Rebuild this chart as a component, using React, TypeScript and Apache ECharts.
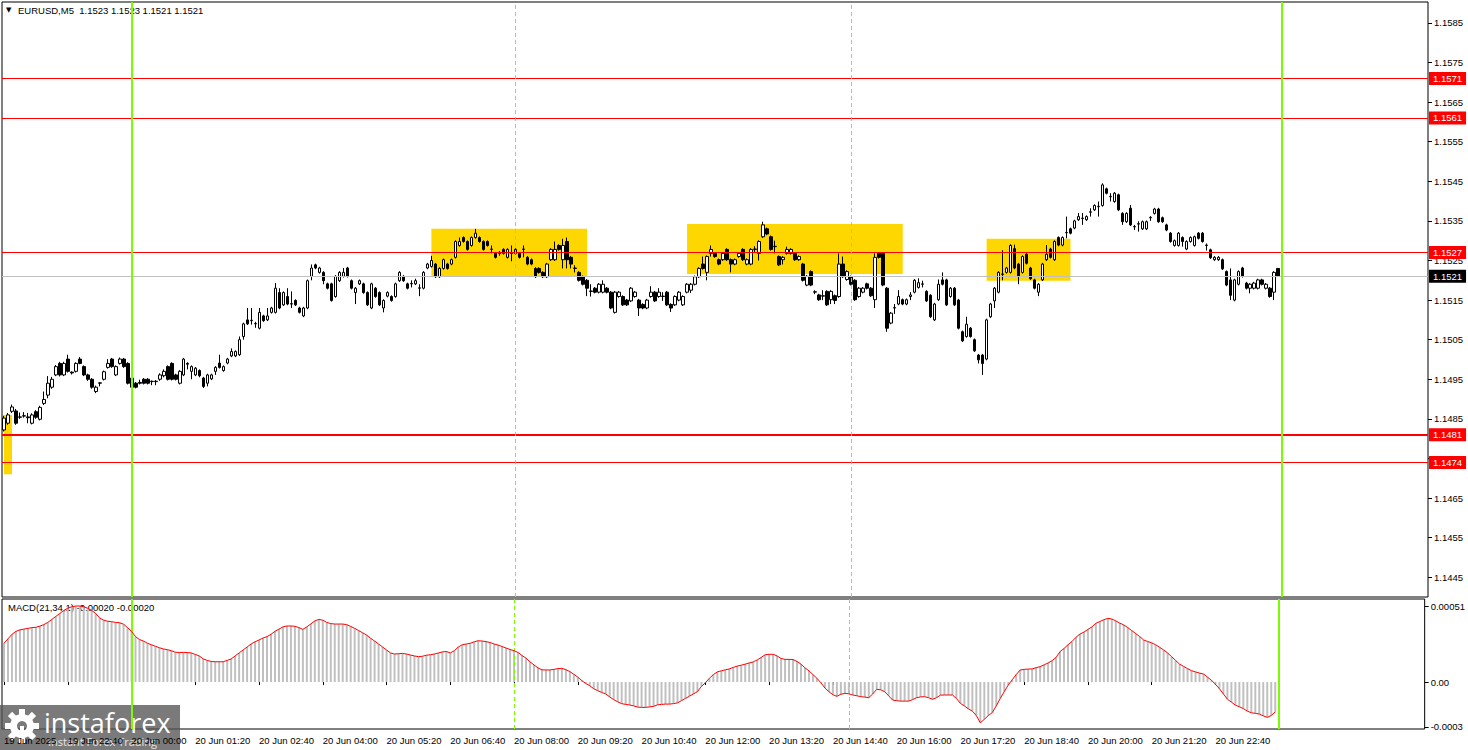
import React, { useEffect, useRef } from "react";
import * as echarts from "echarts";

// Prices are stored in pips above 1.1400 (value = 1.1400 + p / 10000)
const PRICE_BASE = 1.14;
// [open, close, low, high] per M5 bar, from 19 Jun 21:20 to 20 Jun 23:55
const candlesPips: number[][] = [
  [82.2, 85.2, 81.8, 85.8], [83.9, 86.0, 83.5, 86.5], [86.9, 88.0, 86.5, 88.6], [87.0, 83.9, 83.5, 87.5],
  [85.4, 85.5, 85.0, 86.6], [85.7, 85.8, 85.3, 86.7], [85.5, 85.3, 83.9, 86.5], [83.9, 86.0, 83.6, 86.4],
  [86.8, 85.4, 85.0, 87.2], [84.9, 87.9, 84.6, 88.3], [88.9, 89.9, 88.5, 91.9], [91.0, 94.0, 90.2, 95.8],
  [93.0, 95.0, 92.6, 95.6], [96.1, 98.2, 95.8, 98.6], [99.0, 96.1, 95.7, 99.4], [96.1, 99.0, 95.8, 99.4],
  [100.1, 97.0, 96.7, 101.2], [96.8, 96.6, 96.2, 97.0], [97.0, 99.0, 96.7, 99.3], [100.1, 99.0, 98.8, 100.6],
  [98.2, 96.1, 95.8, 98.5], [96.1, 95.0, 94.6, 96.4], [95.0, 93.0, 92.6, 95.3], [91.9, 93.0, 91.5, 93.4],
  [94.0, 94.1, 93.2, 94.3], [95.0, 96.9, 94.7, 97.2], [98.0, 99.0, 97.7, 100.1], [100.1, 98.2, 97.9, 100.4],
  [96.1, 98.2, 95.8, 98.5], [99.0, 100.1, 98.7, 100.5], [100.1, 98.2, 97.9, 100.4], [99.0, 94.0, 93.7, 99.3],
  [95.3, 93.0, 91.9, 95.6], [94.0, 93.0, 92.7, 94.3], [94.2, 94.0, 93.7, 94.9], [95.0, 94.0, 93.7, 95.3],
  [95.0, 94.0, 93.7, 95.3], [94.4, 94.5, 93.5, 94.7], [94.4, 94.5, 93.5, 94.8], [95.0, 96.1, 94.6, 96.5],
  [95.9, 97.0, 95.5, 97.5], [98.2, 95.0, 94.7, 98.5], [99.0, 95.0, 94.7, 99.3], [96.1, 95.0, 94.7, 96.4],
  [94.0, 97.0, 93.7, 97.3], [96.1, 100.1, 95.8, 100.4], [99.0, 98.8, 97.5, 99.3], [97.0, 98.2, 95.0, 98.5],
  [96.1, 97.8, 95.8, 98.1], [97.2, 95.9, 95.5, 97.5], [95.3, 93.2, 92.8, 95.6], [94.0, 96.1, 93.2, 96.4],
  [95.1, 96.1, 94.8, 96.4], [97.0, 98.0, 96.1, 98.3], [99.1, 98.0, 97.7, 101.2], [97.2, 98.2, 96.9, 98.5],
  [99.1, 100.1, 98.8, 100.4], [100.9, 102.0, 100.6, 102.8], [100.9, 102.0, 100.6, 102.3], [101.2, 105.0, 100.9, 105.8],
  [105.8, 109.0, 105.0, 109.3], [110.0, 109.0, 108.7, 113.0], [109.8, 109.9, 108.8, 113.0], [109.0, 109.1, 108.0, 109.5],
  [107.9, 111.9, 107.6, 113.0], [111.0, 109.8, 109.5, 111.3], [110.0, 111.0, 109.7, 113.0], [111.9, 113.0, 111.6, 113.3],
  [111.9, 118.0, 111.6, 119.3], [116.9, 113.0, 112.7, 118.0], [113.8, 116.9, 113.5, 117.2], [115.9, 114.0, 113.7, 118.0],
  [114.0, 114.1, 113.0, 117.2], [114.9, 113.8, 113.5, 115.2], [113.0, 111.9, 111.6, 113.3], [111.0, 113.0, 110.7, 113.3],
  [113.0, 119.9, 112.7, 120.2], [121.0, 123.1, 120.0, 124.0], [123.9, 123.1, 122.8, 124.2], [122.0, 123.1, 121.7, 123.4],
  [122.0, 119.9, 119.0, 122.3], [119.1, 118.0, 117.7, 119.4], [119.1, 114.9, 114.6, 119.4], [115.9, 121.0, 115.6, 121.3],
  [119.9, 122.0, 119.6, 122.3], [121.0, 122.0, 120.7, 123.1], [123.1, 121.0, 120.7, 123.4], [119.9, 118.0, 117.7, 120.2],
  [116.9, 118.0, 114.0, 118.3], [119.1, 119.9, 118.8, 120.2], [119.1, 116.9, 116.6, 119.4], [116.9, 113.8, 113.5, 117.2],
  [113.0, 119.1, 112.7, 119.4], [118.0, 115.9, 115.6, 118.3], [116.9, 113.8, 113.5, 117.2], [113.0, 114.9, 111.9, 115.2],
  [116.0, 116.9, 115.7, 117.2], [115.9, 114.9, 114.6, 116.2], [115.9, 119.1, 115.6, 119.4], [119.9, 122.0, 119.6, 122.3],
  [121.0, 119.9, 119.6, 121.3], [119.1, 118.0, 117.7, 119.4], [119.1, 119.2, 118.2, 120.0], [119.1, 119.9, 118.8, 120.4],
  [118.0, 118.1, 116.0, 119.0], [118.0, 122.0, 117.7, 122.3], [123.1, 124.1, 122.8, 124.4], [123.5, 125.0, 123.2, 126.2],
  [124.1, 120.9, 120.6, 124.4], [120.9, 123.0, 120.6, 123.3], [123.0, 125.2, 122.7, 125.5], [124.1, 123.0, 122.7, 124.4],
  [124.1, 125.2, 123.8, 125.5], [125.8, 129.8, 125.5, 130.1], [128.8, 129.8, 128.5, 130.8], [130.8, 129.8, 129.5, 131.1],
  [129.8, 127.8, 127.5, 130.1], [128.8, 130.8, 128.5, 131.1], [130.8, 131.9, 130.5, 133.0], [130.8, 129.8, 129.5, 131.1],
  [129.8, 127.8, 127.5, 130.1], [129.8, 128.8, 128.5, 130.1], [127.8, 127.9, 126.8, 128.8], [126.8, 125.8, 125.5, 127.1],
  [126.8, 126.9, 126.2, 127.4], [127.8, 126.8, 126.5, 128.1], [125.8, 127.8, 125.5, 128.1], [126.8, 126.9, 124.8, 128.8],
  [127.8, 126.8, 126.5, 128.1], [126.8, 125.8, 125.5, 127.1], [127.8, 127.9, 125.8, 128.8], [125.8, 124.1, 123.8, 126.1],
  [125.2, 124.1, 123.8, 125.5], [123.0, 120.9, 120.6, 123.3], [123.0, 122.0, 121.7, 123.3], [122.0, 120.9, 120.6, 122.3],
  [120.9, 124.1, 120.6, 124.4], [125.2, 127.8, 124.9, 128.1], [125.2, 127.8, 124.9, 129.8], [128.8, 127.8, 127.5, 129.1],
  [125.2, 128.8, 123.0, 130.5], [129.8, 125.2, 123.0, 130.8], [125.8, 124.1, 123.0, 126.1], [123.0, 123.1, 122.0, 123.8],
  [122.0, 120.0, 119.7, 122.3], [120.9, 119.0, 118.7, 121.2], [120.0, 118.0, 116.0, 120.3], [117.2, 117.3, 115.9, 119.0],
  [118.0, 117.0, 116.7, 118.3], [117.0, 119.0, 116.7, 119.3], [117.0, 119.0, 116.7, 120.0], [118.0, 117.0, 116.7, 118.3],
  [117.0, 113.0, 112.7, 117.3], [111.9, 117.0, 111.6, 117.3], [115.9, 117.0, 115.6, 117.3], [115.9, 113.8, 113.5, 116.2],
  [115.0, 113.8, 113.5, 115.3], [114.8, 118.0, 114.5, 118.3], [115.9, 117.0, 115.6, 117.3], [115.0, 113.0, 111.0, 115.3],
  [113.9, 113.0, 112.7, 114.2], [113.0, 115.0, 112.7, 115.3], [115.9, 117.0, 115.6, 118.5], [117.0, 114.8, 114.5, 117.3],
  [115.9, 117.0, 115.6, 118.0], [115.9, 116.0, 114.8, 117.0], [117.0, 113.8, 113.5, 117.3], [113.9, 113.0, 112.0, 114.2],
  [113.8, 115.9, 113.5, 116.2], [115.0, 117.0, 114.7, 117.3], [113.8, 115.9, 113.5, 116.2], [117.0, 119.0, 116.7, 119.3],
  [117.5, 119.0, 116.8, 119.3], [119.0, 120.9, 118.7, 121.2], [120.9, 123.0, 120.6, 123.3], [124.1, 123.0, 122.7, 126.0],
  [122.0, 126.0, 120.0, 126.3], [126.8, 127.8, 126.0, 128.8], [126.8, 126.0, 125.7, 127.1], [125.2, 124.1, 123.8, 125.5],
  [125.2, 126.8, 124.9, 127.1], [127.8, 125.2, 124.9, 128.1], [125.2, 124.1, 122.0, 125.5], [124.1, 125.2, 123.8, 125.5],
  [126.0, 126.8, 125.7, 127.1], [127.8, 125.2, 124.9, 128.1], [124.1, 125.2, 123.8, 125.5], [124.1, 127.8, 123.8, 128.1],
  [127.8, 127.9, 127.0, 128.6], [126.8, 129.8, 125.0, 130.1], [131.0, 134.0, 130.7, 134.8], [133.0, 131.7, 131.4, 133.3],
  [131.0, 127.8, 127.5, 131.3], [128.5, 128.6, 126.8, 130.0], [126.0, 123.9, 123.6, 126.3], [125.2, 125.8, 124.0, 126.1],
  [126.8, 127.8, 126.5, 128.5], [126.8, 127.8, 126.5, 128.1], [126.8, 125.2, 124.9, 127.1], [125.2, 126.0, 124.9, 126.3],
  [124.1, 120.0, 119.7, 124.4], [118.8, 121.0, 118.5, 121.3], [122.2, 118.8, 118.5, 122.5], [117.0, 117.1, 116.5, 117.5],
  [116.3, 115.1, 114.8, 116.6], [116.0, 116.1, 115.0, 117.5], [117.2, 113.8, 113.5, 117.5], [115.1, 117.2, 114.0, 117.5],
  [116.1, 114.9, 114.0, 116.4], [115.9, 124.1, 115.6, 126.8], [124.1, 120.9, 120.6, 126.0], [120.2, 122.2, 119.9, 122.5],
  [120.9, 119.0, 118.7, 121.2], [120.0, 115.1, 114.8, 120.3], [115.9, 118.0, 115.6, 118.3], [117.0, 118.0, 116.7, 118.3],
  [119.1, 118.0, 117.7, 119.4], [118.0, 116.1, 115.8, 118.3], [115.1, 125.8, 113.0, 126.8], [126.8, 125.8, 125.5, 126.8],
  [126.8, 118.8, 118.5, 126.8], [118.0, 107.9, 107.0, 118.3], [109.2, 111.7, 108.9, 112.0], [113.0, 113.1, 111.5, 114.0],
  [114.0, 115.9, 113.7, 117.5], [115.1, 114.0, 113.7, 115.4], [114.0, 115.1, 113.7, 115.4], [115.9, 116.3, 115.0, 117.0],
  [117.0, 120.0, 116.7, 120.3], [118.2, 119.4, 117.9, 120.5], [119.0, 119.1, 118.2, 119.9], [117.2, 114.8, 114.5, 117.5],
  [116.2, 110.8, 110.5, 116.5], [110.0, 114.0, 109.7, 114.3], [115.1, 119.0, 114.8, 120.2], [120.1, 119.0, 118.7, 122.0],
  [120.1, 113.8, 113.5, 120.4], [115.9, 118.0, 115.6, 118.3], [118.0, 113.8, 113.5, 118.3], [115.0, 107.9, 107.6, 115.3],
  [107.0, 104.7, 104.4, 107.3], [105.8, 108.9, 105.5, 110.8], [107.9, 105.8, 105.5, 108.2], [105.0, 102.2, 101.9, 105.3],
  [101.1, 99.9, 99.0, 101.4], [101.1, 99.0, 96.1, 101.4], [100.1, 110.0, 99.8, 110.3], [110.8, 114.0, 110.5, 114.3],
  [114.8, 118.0, 113.0, 118.3], [117.0, 122.0, 116.7, 122.3], [121.5, 121.6, 120.0, 127.6], [122.0, 123.1, 121.7, 123.4],
  [122.0, 128.8, 121.7, 129.1], [128.0, 123.1, 122.8, 129.0], [124.1, 121.0, 119.0, 124.4], [122.0, 126.0, 121.7, 126.3],
  [126.6, 124.3, 124.0, 126.9], [123.1, 120.4, 120.1, 123.4], [120.1, 118.0, 117.7, 120.4], [117.0, 119.0, 116.0, 119.3],
  [120.1, 124.1, 119.8, 124.4], [125.2, 126.6, 124.9, 128.9], [127.9, 125.8, 125.5, 128.2], [125.2, 129.8, 124.9, 130.1],
  [130.8, 128.9, 128.6, 131.1], [128.9, 130.8, 128.6, 131.1], [132.0, 132.1, 130.6, 136.1], [133.0, 131.9, 131.6, 133.3],
  [133.2, 135.0, 132.9, 135.3], [135.3, 136.1, 135.0, 137.0], [135.6, 135.7, 134.0, 137.0], [135.3, 136.1, 135.0, 136.4],
  [137.2, 137.3, 136.1, 138.2], [137.8, 138.9, 137.5, 139.2], [138.6, 138.7, 136.1, 139.9], [138.9, 144.1, 138.6, 144.5],
  [143.1, 142.0, 141.7, 143.4], [141.1, 141.2, 139.9, 142.0], [139.9, 142.0, 139.6, 142.3], [141.6, 137.8, 137.5, 141.9],
  [136.9, 134.8, 134.0, 137.2], [134.8, 136.9, 134.5, 137.2], [138.2, 134.0, 133.7, 139.0], [133.5, 133.6, 132.7, 134.0],
  [134.2, 134.3, 132.3, 134.9], [133.0, 134.8, 132.7, 135.1], [133.0, 134.8, 132.7, 135.1], [135.8, 135.9, 135.0, 136.2],
  [136.9, 138.0, 136.6, 138.3], [138.0, 134.8, 134.5, 138.3], [135.8, 134.8, 134.5, 136.1], [134.0, 132.7, 132.4, 134.3],
  [131.9, 129.8, 129.5, 132.2], [128.8, 130.0, 128.5, 130.3], [128.8, 131.9, 128.5, 132.2], [130.8, 129.8, 128.5, 131.1],
  [127.9, 129.8, 127.6, 130.1], [129.8, 130.8, 129.5, 131.1], [128.8, 131.0, 128.5, 131.3], [131.9, 130.6, 130.3, 132.2],
  [131.9, 129.8, 129.5, 132.2], [128.8, 128.9, 127.5, 129.3], [127.7, 125.7, 125.4, 128.0], [125.2, 125.8, 124.9, 126.1],
  [125.2, 125.8, 124.9, 126.1], [125.2, 122.9, 122.6, 125.5], [122.2, 118.8, 118.5, 122.5], [120.1, 116.2, 115.0, 123.0],
  [115.0, 120.1, 114.7, 120.4], [119.0, 122.2, 118.7, 122.5], [123.1, 121.0, 120.7, 123.4], [119.3, 118.0, 117.7, 119.6],
  [118.0, 119.0, 116.7, 119.3], [118.0, 119.3, 117.7, 119.6], [118.0, 120.1, 117.7, 120.4], [120.1, 119.0, 118.7, 120.4],
  [118.0, 119.0, 117.7, 119.3], [118.0, 115.9, 115.6, 118.3], [117.0, 122.0, 115.0, 122.3], [123.0, 121.0, 121.0, 123.0],
];

// MACD(21,34,1) main values, in units of 0.00001, one per bar
const macdValues: number[] = [
  26, 29, 32, 34, 35, 35.5, 36, 36.5, 36.7, 37.5,
  38.5, 40, 42, 44, 46, 48, 49.5, 50.5, 51, 51,
  50.5, 49.5, 48, 46, 43, 41.5, 40.8, 40.5, 40, 39.8,
  38.8, 36.5, 34, 30.5, 28.5, 27.5, 26, 25, 24, 23,
  22.2, 21.7, 21, 20, 19.8, 19.9, 19.8, 19.5, 18.5, 17.5,
  15.5, 14.5, 13.8, 13.6, 13.6, 13.6, 14.5, 15.5, 17.5, 19.5,
  21.5, 23.5, 25.5, 27, 28.2, 29.5, 30.5, 32, 34, 35.5,
  37, 37.6, 37.6, 37.4, 36.5, 35.3, 37, 39, 41, 42,
  41.5, 40, 39.2, 38.9, 38.9, 38.9, 38.5, 37.3, 36, 34.5,
  33, 31.5, 29.3, 27.5, 25.5, 23.5, 21.5, 19.5, 18.8, 19,
  19.2, 18.8, 18.1, 17.5, 17, 17.3, 18, 18.3, 18.8, 19.5,
  20.2, 20.5, 19.5, 21, 23.5, 25, 25.5, 26, 27, 27.7,
  27.5, 27.1, 26.5, 25.5, 24.8, 23.8, 22.8, 21.8, 21, 19.8,
  17.8, 16, 13.5, 11.5, 9.5, 8.2, 8.1, 8.1, 8.5, 9,
  9.2, 8.3, 7, 5.2, 3.3, 1, -1, -2.5, -4.5, -5.8,
  -7, -8, -10, -11.8, -13.3, -14.5, -15, -15.4, -16, -16.8,
  -17, -17, -16.7, -16.3, -15.3, -15, -14.8, -14.8, -14.5, -14,
  -12.5, -11, -9.5, -8, -6.5, -3, -0.5, 2.5, 5, 6.8,
  7.5, 8.2, 8.8, 9.8, 10.7, 11.3, 12, 12.8, 13.5, 14.8,
  16.5, 18.3, 18.6, 18.6, 17.5, 15.8, 15.2, 15.2, 15.1, 13.8,
  12, 9.5, 7.5, 5, 2.5, -0.5, -4, -6.5, -8.5, -9.6,
  -8.2, -7.6, -7.9, -8.7, -9.2, -9.8, -10.1, -10.5, -8, -4.9,
  -5.2, -6.5, -9.2, -12.1, -12.5, -12.8, -12.8, -12.8, -11.8, -10.5,
  -10, -9.8, -10.5, -11.6, -10.5, -8.8, -8.7, -8.7, -8.7, -11,
  -14.3, -16, -18, -19.5, -22.5, -27.3, -25, -22.5, -20.5, -16,
  -11, -6.5, -2, 1.5, 5, 8.1, 8.5, 8.7, 8.8, 9.6,
  10.3, 11.5, 12.8, 14.3, 16.5, 20.4, 22.5, 25, 27.2, 30,
  32.2, 33.5, 35.3, 37, 39.4, 40.6, 41.8, 42.7, 42.3, 41,
  39.5, 38.3, 36.5, 34.5, 32.5, 30.5, 28.2, 27.2, 26.3, 25,
  23.3, 21.5, 19.5, 17, 14.5, 12, 10.5, 9, 7.6, 6.8,
  6, 5.4, 3.3, 1.2, -1.5, -4.5, -8, -11.5, -13.5, -15.5,
  -16.6, -17.8, -19.5, -20.6, -21, -21.5, -22.7, -23.7, -22.5, -20,
];

const timeTickLabels = [
  "19 Jun 2025", "19 Jun 22:40", "20 Jun 00:00", "20 Jun 01:20", "20 Jun 02:40",
  "20 Jun 04:00", "20 Jun 05:20", "20 Jun 06:40", "20 Jun 08:00", "20 Jun 09:20",
  "20 Jun 10:40", "20 Jun 12:00", "20 Jun 13:20", "20 Jun 14:40", "20 Jun 16:00",
  "20 Jun 17:20", "20 Jun 18:40", "20 Jun 20:00", "20 Jun 21:20", "20 Jun 22:40",
];
const BARS_PER_TICK = 16;
const TOTAL_SLOTS = 357; // bars plus the empty space at the right of the chart
const START_MINUTES = 21 * 60 + 20; // 19 Jun 21:20

const priceTicks = [
  1.1445, 1.1455, 1.1465, 1.1475, 1.1485, 1.1495, 1.1505, 1.1515,
  1.1525, 1.1535, 1.1545, 1.1555, 1.1565, 1.1575, 1.1585,
];
const priceMin = 1.144;
const priceMax = 1.15903;
const macdTicks = [-0.0003, 0, 0.00051];
const macdTickLabels = ["-0.0003", "0.00", "0.00051"];
const macdMin = -0.000315;
const macdMax = 0.000557;

const redLevels = [1.1571, 1.1561, 1.1527, 1.1481, 1.1474];
const thickLevel = 1.1481;
const bidPrice = 1.1521;
const dayLines = [32, 320]; // 20 Jun 00:00, 21 Jun 00:00
const dashedLines = [128, 212]; // 20 Jun 08:00, 20 Jun 15:00
// [fromBar, toBar, topPrice, bottomPrice]
const zones = [
  [0, 2, 1.1486, 1.1471],
  [107, 146, 1.1533, 1.15211],
  [171, 225, 1.15342, 1.15216],
  [246, 267, 1.15305, 1.15199],
];

const FONT = "Liberation Sans";
const LIME = "#7CFC00";

function pad(n: number) {
  return n < 10 ? "0" + n : "" + n;
}

function buildOption() {
  const categories: string[] = [];
  for (let i = 0; i < TOTAL_SLOTS; i++) {
    const m = START_MINUTES + i * 5;
    const day = 19 + Math.floor(m / 1440);
    const mm = m % 1440;
    categories.push(`${day} Jun ${pad(Math.floor(mm / 60))}:${pad(mm % 60)}`);
  }
  const toPrice = (p: number) => +(PRICE_BASE + p / 10000).toFixed(5);
  const candleData = candlesPips.map((c) => c.map(toPrice));
  const macdData = macdValues.map((v) => +(v * 1e-5).toFixed(7));

  const isTick = (idx: number) =>
    idx % BARS_PER_TICK === 0 && idx / BARS_PER_TICK < timeTickLabels.length;

  const vLines = () => {
    const arr: any[] = dayLines.map((x) => ({
      xAxis: x,
      lineStyle: { color: LIME, width: 2, type: "solid" },
      label: { show: false },
    }));
    dashedLines.forEach((x) =>
      arr.push({
        xAxis: x,
        lineStyle: { color: LIME, width: 1, type: [4, 3] },
        label: { show: false },
      })
    );
    return arr;
  };

  const levelLabel = (bg: string, value: number) => ({
    show: true,
    position: "end",
    distance: 1,
    formatter: value.toFixed(4),
    backgroundColor: bg,
    color: "#fff",
    fontSize: 9.5,
    fontFamily: FONT,
    padding: [2, 4, 1, 4],
  });

  const hLines: any[] = redLevels.map((v) => ({
    yAxis: v,
    lineStyle: { color: "#FF0000", width: v === thickLevel ? 2 : 1, type: "solid" },
    label: levelLabel("#FF0000", v),
  }));
  hLines.push({
    yAxis: bidPrice,
    lineStyle: { color: "#C0C0C0", width: 1, type: "solid" },
    label: levelLabel("#000000", bidPrice),
  });

  const gearTeeth: any[] = [];
  for (let k = 0; k < 8; k++) {
    gearTeeth.push({
      type: "rect",
      shape: { x: -3, y: -17, width: 6, height: 7 },
      rotation: (k * Math.PI) / 4,
      style: { fill: "#ffffff" },
    });
  }

  return {
    animation: false,
    backgroundColor: "#ffffff",
    textStyle: { fontFamily: FONT },
    grid: [
      { left: 2, top: 2, width: 1426, height: 595, show: true, borderColor: "#000", borderWidth: 1, backgroundColor: "transparent" },
      { left: 2, top: 599, width: 1426, height: 130, show: true, borderColor: "#000", borderWidth: 1, backgroundColor: "transparent" },
    ],
    xAxis: [
      {
        type: "category",
        gridIndex: 0,
        data: categories,
        boundaryGap: true,
        axisLine: { show: false },
        axisTick: { show: false },
        axisLabel: { show: false },
        splitLine: { show: false },
      },
      {
        type: "category",
        gridIndex: 1,
        data: categories,
        boundaryGap: true,
        axisLine: { show: false },
        axisTick: {
          show: true,
          alignWithLabel: true,
          interval: (idx: number) => isTick(idx),
          length: 3,
          lineStyle: { color: "#000" },
        },
        axisLabel: {
          show: true,
          interval: (idx: number) => isTick(idx),
          formatter: (_v: string, idx: number) => timeTickLabels[Math.round(idx / BARS_PER_TICK)] || "",
          align: "left",
          margin: 6,
          color: "#000",
          fontSize: 9.5,
          fontFamily: FONT,
        },
        splitLine: { show: false },
      },
    ],
    yAxis: [
      {
        type: "value",
        gridIndex: 0,
        position: "right",
        min: priceMin,
        max: priceMax,
        axisLine: { show: false },
        splitLine: { show: false },
        axisTick: {
          show: true,
          inside: false,
          length: 4,
          customValues: priceTicks,
          lineStyle: { color: "#000" },
        },
        axisLabel: {
          show: true,
          customValues: priceTicks,
          formatter: (v: number) => v.toFixed(4),
          margin: 6,
          color: "#000",
          fontSize: 9.5,
          fontFamily: FONT,
        },
      },
      {
        type: "value",
        gridIndex: 1,
        position: "right",
        min: macdMin,
        max: macdMax,
        axisLine: { show: false },
        splitLine: { show: false },
        axisTick: {
          show: true,
          inside: false,
          length: 4,
          customValues: macdTicks,
          lineStyle: { color: "#000" },
        },
        axisLabel: {
          show: true,
          customValues: macdTicks,
          formatter: (v: number) => {
            const i = macdTicks.findIndex((t) => Math.abs(t - v) < 1e-9);
            return i >= 0 ? macdTickLabels[i] : "";
          },
          margin: 6,
          color: "#000",
          fontSize: 9.5,
          fontFamily: FONT,
        },
      },
    ],
    series: [
      {
        type: "candlestick",
        name: "EURUSD,M5",
        xAxisIndex: 0,
        yAxisIndex: 0,
        data: candleData,
        barWidth: 3,
        silent: true,
        z: 3,
        itemStyle: {
          color: "#ffffff",
          color0: "#000000",
          borderColor: "#000000",
          borderColor0: "#000000",
          borderColorDoji: "#000000",
          borderWidth: 1,
        },
        markArea: {
          silent: true,
          itemStyle: { color: "#FFD700", opacity: 1 },
          data: zones.map((z) => [
            { xAxis: z[0], yAxis: z[2] },
            { xAxis: z[1], yAxis: z[3] },
          ]),
        },
      },
      {
        // carrier for the horizontal price levels and the vertical time markers
        type: "line",
        name: "Levels",
        xAxisIndex: 0,
        yAxisIndex: 0,
        data: [],
        silent: true,
        z: 4,
        markLine: {
          silent: true,
          precision: 5,
          symbol: ["none", "none"],
          animation: false,
          data: [...hLines, ...vLines()],
        },
      },
      {
        type: "bar",
        name: "MACD",
        xAxisIndex: 1,
        yAxisIndex: 1,
        data: macdData,
        barWidth: 2,
        silent: true,
        itemStyle: { color: "#C0C0C0" },
        markLine: {
          silent: true,
          symbol: ["none", "none"],
          animation: false,
          data: vLines(),
        },
      },
      {
        type: "line",
        name: "Signal",
        xAxisIndex: 1,
        yAxisIndex: 1,
        data: macdData,
        symbol: "none",
        silent: true,
        z: 5,
        lineStyle: { color: "#FF0000", width: 1 },
      },
    ],
    graphic: [
      {
        type: "text",
        left: 6,
        top: 6,
        style: { text: "▼", fill: "#000", fontSize: 7, fontFamily: "DejaVu Sans" },
      },
      {
        type: "text",
        left: 18,
        top: 5,
        style: { text: "EURUSD,M5  1.1523 1.1523 1.1521 1.1521", fill: "#000", fontSize: 9.5, fontFamily: FONT },
      },
      {
        type: "text",
        left: 8,
        top: 602,
        style: { text: "MACD(21,34,1) -0.00020 -0.00020", fill: "#000", fontSize: 9.5, fontFamily: FONT },
      },
      {
        type: "group",
        left: 0,
        top: 705,
        z: 100,
        children: [
          { type: "rect", shape: { x: 0, y: 0, width: 180, height: 45 }, style: { fill: "rgba(85,85,85,0.78)" } },
          {
            type: "group",
            x: 22,
            y: 21,
            children: [
              ...gearTeeth,
              { type: "ring", shape: { cx: 0, cy: 0, r: 12, r0: 5 }, style: { fill: "#ffffff" } },
              { type: "rect", shape: { x: -2, y: 0, width: 4, height: 13 }, style: { fill: "#ffffff" } },
            ],
          },
          {
            type: "text",
            x: 44,
            y: 4,
            style: { text: "instaforex", fill: "#ffffff", fontSize: 27, fontFamily: "Open Sans" },
          },
          {
            type: "text",
            x: 48,
            y: 31,
            style: { text: "Instant Forex Trading", fill: "#e6e6e6", fontSize: 11, fontFamily: "Open Sans" },
          },
        ],
      },
    ],
  };
}

export default function App() {
  const ref = useRef<HTMLDivElement>(null);
  useEffect(() => {
    if (!ref.current) return;
    const chart = echarts.init(ref.current, null, { renderer: "svg" });
    chart.setOption(buildOption() as any);
    return () => chart.dispose();
  }, []);
  return (
    <div
      ref={ref}
      style={{ position: "fixed", left: 0, top: 0, width: 1468, height: 750, background: "#fff" }}
    />
  );
}
